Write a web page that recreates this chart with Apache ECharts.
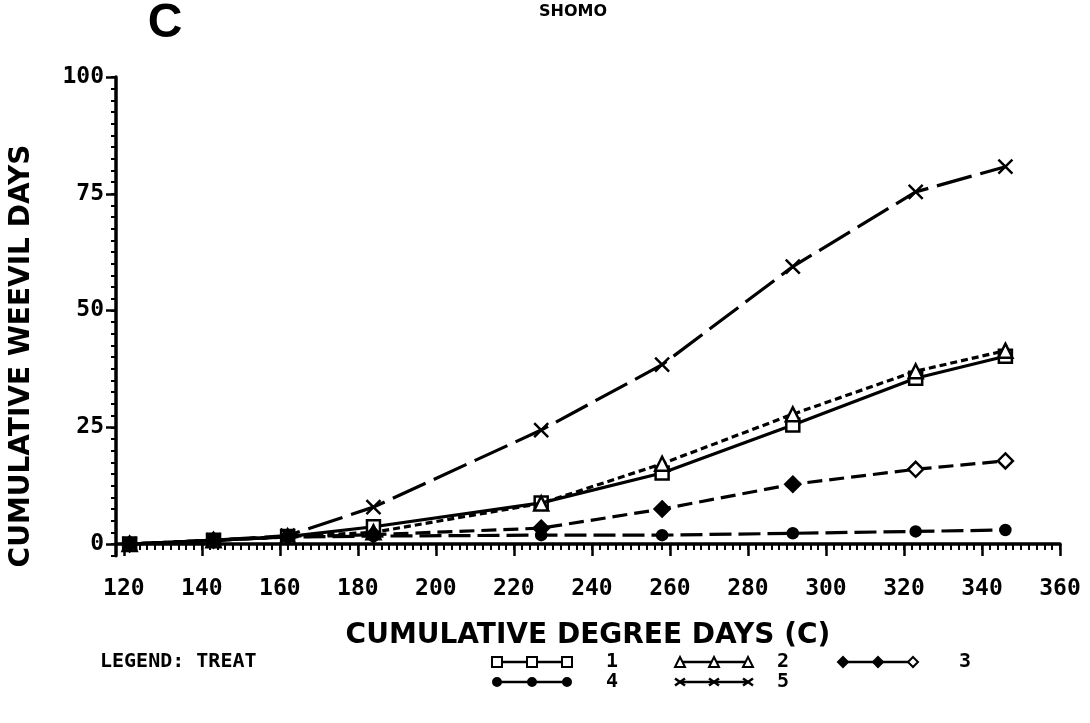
<!DOCTYPE html>
<html>
<head>
<meta charset="utf-8">
<script src="https://cdn.jsdelivr.net/npm/echarts@6/dist/echarts.min.js"></script>
<style>
  html, body { margin: 0; padding: 0; background: #fff; }
  #chart { width: 1090px; height: 723px; }
</style>
</head>
<body>
<div id="chart"></div>
<script>
// Cumulative degree days (C) at each sampling date
const degreeDays = [121.5, 143, 162, 184, 227, 258, 291.5, 323, 346];

// Cumulative weevil days per treatment
const treat1 = [0, 0.8, 1.6, 3.7, 8.8, 15.2, 25.5, 35.5, 40.2];
const treat2 = [0, 0.8, 1.6, 2.5, 8.7, 17.2, 27.8, 37.0, 41.4];
const treat3 = [0, 0.8, 1.5, 2.0, 3.4, 7.5, 12.8, 16.0, 17.8];
const treat4 = [0, 0.8, 1.5, 1.7, 1.9, 1.9, 2.3, 2.7, 3.0];
const treat5 = [0, 0.8, 1.8, 7.9, 24.4, 38.4, 59.4, 75.4, 80.8];

const treatNames = ['1', '2', '3', '4', '5'];
const xTickValues = [120, 140, 160, 180, 200, 220, 240, 260, 280, 300, 320, 340, 360];
const yTickValues = [0, 25, 50, 75, 100];

const titleText = 'C';
const siteText = 'SHOMO';
const xName = 'CUMULATIVE DEGREE DAYS (C)';
const yName = 'CUMULATIVE WEEVIL DAYS';
const legendTitle = 'LEGEND: TREAT';

const INK = '#000';
const tickFont = 'DejaVu Sans Mono';
const nameFont = 'DejaVu Sans';
const crossPath = 'path://M0,0L10,10M10,0L0,10';

function pairs(vals) {
  return degreeDays.map((x, i) => [x, vals[i]]);
}

// treatment 3 switches to open diamonds for its final two samples
function treat3Data() {
  return degreeDays.map((x, i) => i >= 7
    ? { value: [x, treat3[i]], itemStyle: { color: '#fff' } }
    : [x, treat3[i]]);
}

const styles = [
  { symbol: 'rect', size: 13, fill: '#fff', dash: 'solid' },
  { symbol: 'triangle', size: 14, fill: '#fff', dash: [7, 4] },
  { symbol: 'diamond', size: 15, fill: INK, dash: [15, 7] },
  { symbol: 'circle', size: 10, fill: INK, dash: [22, 7] },
  { symbol: crossPath, size: 14, fill: 'rgba(0,0,0,0)', dash: [36, 9] }
];

const seriesData = [pairs(treat1), pairs(treat2), treat3Data(), pairs(treat4), pairs(treat5)];

const series = seriesData.map((data, k) => ({
  name: treatNames[k],
  type: 'line',
  xAxisIndex: 0,
  yAxisIndex: 0,
  data: data,
  symbol: styles[k].symbol,
  symbolSize: styles[k].size,
  showAllSymbol: true,
  itemStyle: { color: styles[k].fill, borderColor: INK, borderWidth: 2.5 },
  lineStyle: { color: INK, width: 3.2, type: styles[k].dash },
  emphasis: { disabled: true },
  z: 2 + k
}));

// ---- hand-drawn legend: three markers joined by short strokes ----
function marker(kind, cx, cy, s, hollow) {
  const st = { fill: hollow ? '#fff' : INK, stroke: INK, lineWidth: 2 };
  const h = s / 2;
  if (kind === 'rect') return { type: 'rect', shape: { x: cx - h, y: cy - h, width: s, height: s }, style: st };
  if (kind === 'triangle') return { type: 'polygon', shape: { points: [[cx, cy - h], [cx + h, cy + h], [cx - h, cy + h]] }, style: st };
  if (kind === 'diamond') return { type: 'polygon', shape: { points: [[cx, cy - h], [cx + h, cy], [cx, cy + h], [cx - h, cy]] }, style: st };
  if (kind === 'circle') return { type: 'circle', shape: { cx: cx, cy: cy, r: h * 0.8 }, style: st };
  return {
    type: 'group', children: [
      { type: 'line', shape: { x1: cx - h, y1: cy - h * 0.7, x2: cx + h, y2: cy + h * 0.7 }, style: { stroke: INK, lineWidth: 2.5 } },
      { type: 'line', shape: { x1: cx - h, y1: cy + h * 0.7, x2: cx + h, y2: cy - h * 0.7 }, style: { stroke: INK, lineWidth: 2.5 } }
    ]
  };
}

const legendSlots = [
  { x0: 497, x1: 567, y: 662, tx: 612 },
  { x0: 680, x1: 748, y: 662, tx: 783 },
  { x0: 843, x1: 913, y: 662, tx: 965 },
  { x0: 497, x1: 567, y: 682, tx: 612 },
  { x0: 680, x1: 748, y: 682, tx: 783 }
];
const legendKinds = ['rect', 'triangle', 'diamond', 'circle', 'cross'];

const legendGraphics = [];
legendSlots.forEach((slot, k) => {
  const xm = (slot.x0 + slot.x1) / 2;
  legendGraphics.push({
    type: 'line', shape: { x1: slot.x0, y1: slot.y, x2: slot.x1, y2: slot.y },
    style: { stroke: INK, lineWidth: 2.5 }
  });
  [slot.x0, xm, slot.x1].forEach((x, j) => {
    const hollow = k < 2 || (k === 2 && j === 2);
    legendGraphics.push(marker(legendKinds[k], x, slot.y, 10, hollow));
  });
  legendGraphics.push({
    type: 'text', x: slot.tx, y: slot.y,
    style: { text: treatNames[k], font: 'bold 20px ' + tickFont, fill: INK, align: 'center', verticalAlign: 'middle' }
  });
});

const chart = echarts.init(document.getElementById('chart'), null, { renderer: 'canvas' });

chart.setOption({
  animation: false,
  backgroundColor: '#fff',
  grid: { left: 116, right: 30, top: 77, bottom: 167.3, containLabel: false },
  xAxis: [
    {
      type: 'value', min: 118, max: 360, interval: 2,
      axisLine: { show: true, lineStyle: { color: INK, width: 3.5 } },
      axisTick: { show: true, length: 6, lineStyle: { color: INK, width: 2 } },
      axisLabel: { show: false },
      splitLine: { show: false }
    },
    {
      type: 'value', min: 118, max: 360, position: 'bottom',
      axisLine: { show: false },
      axisTick: { show: true, length: 12, customValues: xTickValues, lineStyle: { color: INK, width: 2.5 } },
      axisLabel: {
        show: true, customValues: xTickValues, margin: 22,
        color: INK, fontFamily: tickFont, fontWeight: 'bold', fontSize: 23
      },
      splitLine: { show: false },
      name: xName, nameLocation: 'middle', nameGap: 80,
      nameTextStyle: { color: INK, fontFamily: nameFont, fontWeight: 'bold', fontSize: 28, verticalAlign: 'middle' }
    }
  ],
  yAxis: [
    {
      type: 'value', min: -2.5, max: 100, interval: 2.5,
      axisLine: { show: true, lineStyle: { color: INK, width: 3.5 } },
      axisTick: { show: true, length: 5, lineStyle: { color: INK, width: 2 } },
      axisLabel: { show: false },
      splitLine: { show: false }
    },
    {
      type: 'value', min: -2.5, max: 100, position: 'left',
      axisLine: { show: false },
      axisTick: { show: true, length: 10, customValues: yTickValues, lineStyle: { color: INK, width: 2.5 } },
      axisLabel: {
        show: true, customValues: yTickValues, margin: 12,
        color: INK, fontFamily: tickFont, fontWeight: 'bold', fontSize: 23
      },
      splitLine: { show: false }
    }
  ],
  series: series,
  graphic: [
    {
      type: 'text', x: 165, y: 24,
      style: { text: titleText, font: 'bold 48px "Liberation Sans"', fill: INK, align: 'center', verticalAlign: 'middle' }
    },
    {
      type: 'text', x: 573, y: 12,
      style: { text: siteText, font: 'bold 16px ' + nameFont, fill: INK, align: 'center', verticalAlign: 'middle' }
    },
    {
      type: 'text', x: 22, y: 356, rotation: Math.PI / 2,
      style: { text: yName, font: 'bold 28px ' + nameFont, fill: INK, align: 'center', verticalAlign: 'middle' }
    },
    {
      type: 'text', x: 100, y: 662,
      style: { text: legendTitle, font: 'bold 20px ' + tickFont, fill: INK, align: 'left', verticalAlign: 'middle' }
    }
  ].concat(legendGraphics)
});
</script>
</body>
</html>
